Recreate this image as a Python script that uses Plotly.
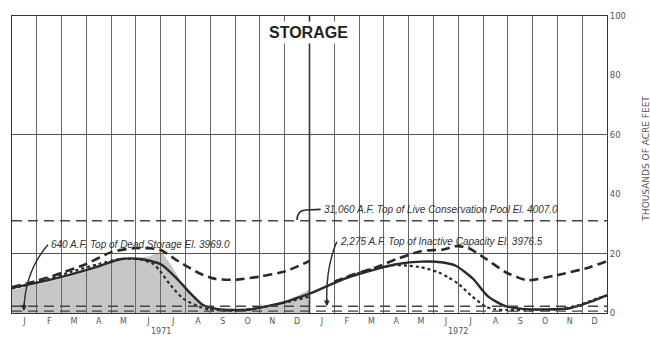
import plotly.graph_objects as go

# ---------------- data (months since 1 Jan 1971; storage in thousand acre-feet)
months = ["J", "F", "M", "A", "M", "J", "J", "A", "S", "O", "N", "D"] * 2
month_centers = [i + 0.5 for i in range(24)]
month_bounds = list(range(25))
years = ["1971", "1972"]
year_pos = [6, 18]
y_ticks = [0, 20, 40, 60, 80, 100]
y_grid = [20, 60]

gray_x = [0, 1.0, 2.0, 3.0, 4.0, 4.8, 5.5, 5.8, 6.0, 6.4, 6.9, 7.2, 7.5, 8.0, 8.5, 9.0, 9.5, 10.0, 11.0, 11.5, 12.0]
gray_y = [7.8, 9.6, 11.6, 14.0, 17.0, 18.4, 19.0, 20.0, 20.5, 16.4, 9.5, 6.5, 3.9, 1.5, 0.8, 0.6, 0.8, 1.8, 4.0, 5.8, 8.0]

solid_x = [0, 0.85, 2.2, 3.55, 4.36, 5.17, 6.0, 6.66, 7.2, 7.7, 8.3, 8.94, 9.6, 10.3, 10.8, 11.2, 12.0,
           13.4, 14.7, 15.5, 16.5, 17.4, 17.9, 18.6, 19.2, 19.9, 20.6, 21.5, 22.5, 23.35, 24.0]
solid_y = [8.5, 9.9, 12.6, 15.9, 18.1, 18.2, 16.4, 11.5, 6.6, 2.7, 1.3, 1.0, 1.2, 2.3, 3.2, 4.2, 6.5,
           11.5, 14.8, 16.4, 17.3, 17.0, 15.9, 11.5, 5.6, 2.3, 1.4, 1.2, 1.6, 3.8, 6.0]

dash71_x = [0, 1.0, 2.0, 3.0, 4.0, 4.9, 5.5, 6.0, 6.6, 7.1, 7.6, 8.2, 9.0, 10.0, 11.0, 12.0]
dash71_y = [8.7, 10.8, 13.5, 16.5, 20.5, 21.8, 21.8, 21.2, 18.0, 15.5, 13.2, 11.5, 11.2, 12.3, 14.0, 17.5]
dash72_x = [13.0, 13.6, 14.7, 15.5, 16.5, 17.4, 17.9, 18.4, 19.1, 19.9, 20.4, 20.8, 21.9, 23.3, 24.0]
dash72_y = [10.5, 12.5, 15.4, 18.1, 20.8, 21.4, 22.5, 21.9, 18.3, 13.8, 12.0, 11.0, 12.6, 15.4, 17.5]

dot71_x = [0, 1.0, 2.4, 3.5, 4.4, 5.2, 5.7, 6.0, 6.4, 6.9, 7.5, 8.0, 9.0, 10.0, 11.0, 12.0]
dot71_y = [8.3, 10.3, 13.9, 16.5, 18.2, 18.0, 16.5, 13.8, 9.3, 4.9, 2.3, 1.2, 0.8, 1.8, 3.5, 5.5]
dot72_x = [13.0, 13.6, 14.4, 15.0, 15.4, 16.0, 16.5, 17.2, 17.6, 18.0, 18.5, 19.1, 19.5, 20.0, 21.0, 22.0, 22.8, 23.6, 24.0]
dot72_y = [10.5, 12.3, 14.5, 15.5, 16.1, 15.9, 15.4, 13.7, 12.0, 9.9, 6.0, 2.2, 1.2, 1.0, 1.0, 1.2, 2.5, 4.9, 5.8]

levels = [31.06, 2.275, 0.64]
level_labels = [
    "31,060 A.F. Top of Live Conservation Pool El. 4007.0",
    "2,275 A.F. Top of Inactive Capacity El. 3976.5",
    "640 A.F. Top of Dead Storage El. 3969.0",
]
label_pos = [(12.5, 34.9), (13.15, 24.0), (1.49, 23.0)]

INK = "#2a2a2a"
FONT = "Liberation Sans"

fig = go.Figure()

fig.add_trace(go.Scatter(
    x=gray_x, y=gray_y, mode="lines", fill="tozeroy",
    line=dict(width=0, shape="spline", smoothing=0.6),
    fillcolor="rgba(105,105,105,0.36)",
    fillpattern=dict(shape=".", fgcolor="rgba(70,70,70,0.22)", bgcolor="rgba(105,105,105,0.36)",
                     size=2, solidity=0.2),
    hoverinfo="skip", showlegend=False))

for xs, ys in [(dash71_x, dash71_y), (dash72_x, dash72_y)]:
    fig.add_trace(go.Scatter(x=xs, y=ys, mode="lines",
                             line=dict(color=INK, width=2.6, dash="9px,5px", shape="spline", smoothing=0.7),
                             showlegend=False))
for xs, ys in [(dot71_x, dot71_y), (dot72_x, dot72_y)]:
    fig.add_trace(go.Scatter(x=xs, y=ys, mode="lines",
                             line=dict(color=INK, width=2.2, dash="dot", shape="spline", smoothing=0.7),
                             showlegend=False))
fig.add_trace(go.Scatter(x=solid_x, y=solid_y, mode="lines",
                         line=dict(color=INK, width=2.4, shape="spline", smoothing=0.7),
                         showlegend=False))

# horizontal reference levels
for lv in levels:
    fig.add_shape(type="line", xref="x", yref="y", x0=0, x1=24, y0=lv, y1=lv,
                  line=dict(color="#444", width=1.4, dash="10px,6px"))

# year divider
fig.add_shape(type="line", xref="x", yref="y", x0=12, x1=12, y0=0, y1=100,
              line=dict(color="#333", width=1.6))

# level labels
for (lx, ly), txt in zip(label_pos, level_labels):
    fig.add_annotation(x=lx, y=ly, xref="x", yref="y", text="<i>" + txt + "</i>",
                       showarrow=False, xanchor="left", yanchor="middle",
                       font=dict(family=FONT, size=10, color="#333"))

# leader curves
fig.add_shape(type="path", xref="x", yref="y",
              path="M 1.45,23 Q 0.545,14.3 0.48,1.5", line=dict(color=INK, width=1.4))
fig.add_shape(type="path", xref="x", yref="y",
              path="M 11.5,31.3 Q 11.5,34.6 11.85,34.7 L 12.45,34.9", line=dict(color=INK, width=1.6))
fig.add_shape(type="path", xref="x", yref="y",
              path="M 13.1,24 Q 12.65,15.1 12.7,3.5", line=dict(color=INK, width=1.4))
for ax_, ay_ in [(0.48, levels[2]), (12.7, levels[1])]:
    fig.add_annotation(x=ax_, y=ay_, xref="x", yref="y", text="", showarrow=True,
                       ax=0, ay=-9, arrowhead=2, arrowsize=0.9, arrowwidth=1.3, arrowcolor=INK)

# year labels
for yp, yr in zip(year_pos, years):
    fig.add_annotation(x=yp, y=-0.063, xref="x", yref="paper", text=yr, showarrow=False,
                       xanchor="center", yanchor="middle",
                       font=dict(family="DejaVu Sans", size=8, color="#555"))

# title
fig.add_annotation(x=0.498, y=0.943, xref="paper", yref="paper", text="<b>STORAGE</b>",
                   showarrow=False, bgcolor="white", borderpad=2,
                   xanchor="center", yanchor="middle",
                   font=dict(family=FONT, size=16, color="#222"))

# right axis title
fig.add_annotation(x=1.064, y=0.52, xref="paper", yref="paper", text="THOUSANDS OF ACRE FEET",
                   textangle=-90, showarrow=False, xanchor="center", yanchor="middle",
                   font=dict(family="DejaVu Sans", size=9, color="#555"))

fig.update_layout(
    width=650, height=337,
    margin=dict(l=12, r=43, t=11, b=22),
    paper_bgcolor="white", plot_bgcolor="white",
    showlegend=False,
    xaxis=dict(range=[0, 24], tickmode="array", tickvals=month_centers, ticktext=months,
               showgrid=False, zeroline=False, ticks="",
               tickfont=dict(family="DejaVu Sans", size=8, color="#555"),
               showline=True, linecolor="#333", linewidth=1.2, mirror=True,
               minor=dict(tickmode="array", tickvals=month_bounds, showgrid=True,
                          gridcolor="#666", gridwidth=1, ticks="")),
    yaxis=dict(range=[0, 100], side="right", tickmode="array", tickvals=y_ticks,
               showgrid=False, zeroline=False, ticks="",
               tickfont=dict(family="DejaVu Sans", size=8.5, color="#555"),
               showline=True, linecolor="#333", linewidth=1.2, mirror=True,
               minor=dict(tickmode="array", tickvals=y_grid, showgrid=True,
                          gridcolor="#555", gridwidth=1, ticks="")),
)

fig.write_html("out.html")
